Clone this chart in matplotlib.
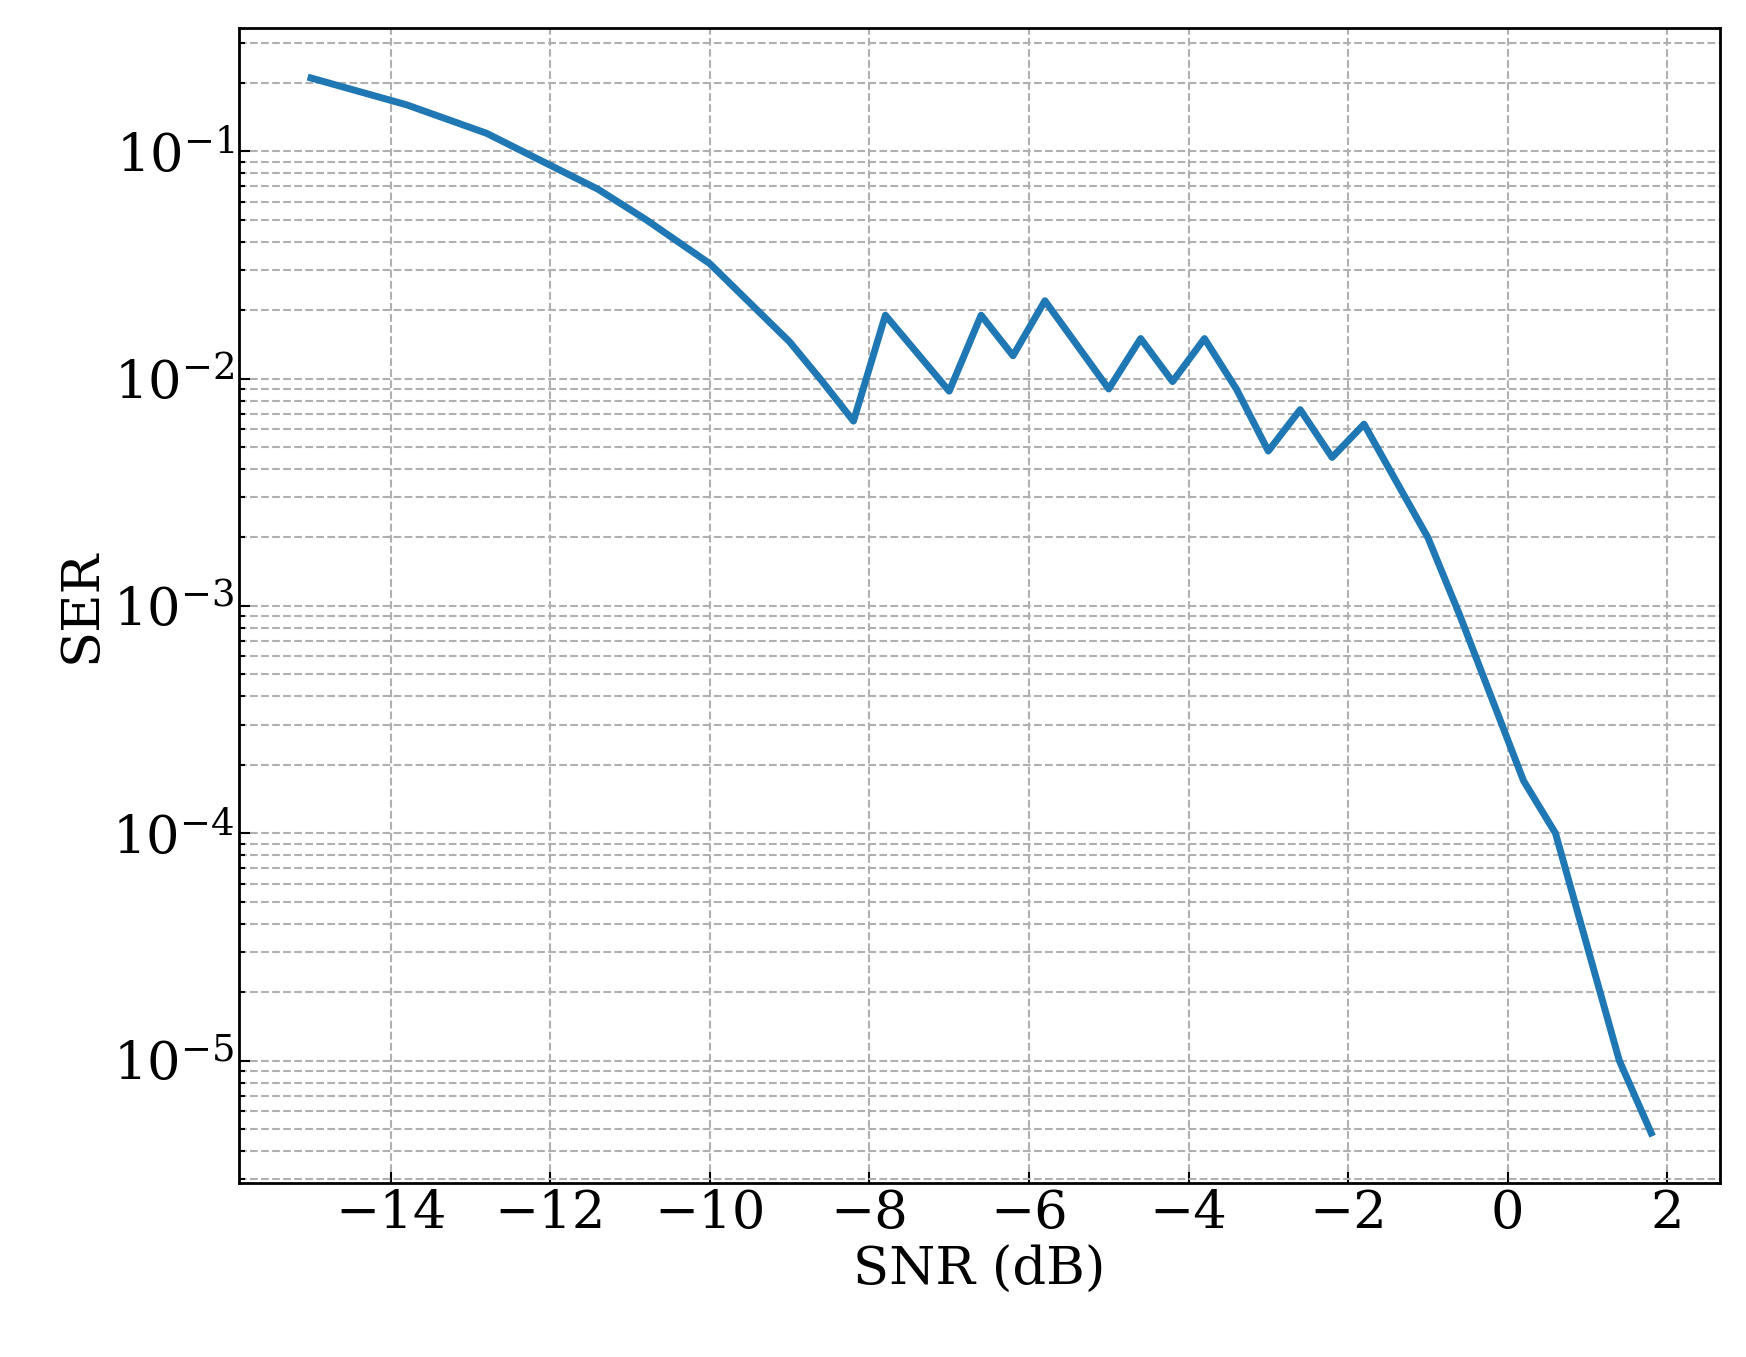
import matplotlib
matplotlib.use("Agg")
import matplotlib.pyplot as plt

snr = [-15, -13.8, -12.8, -11.4, -10.8, -10, -9, -8.6, -8.2, -7.8, -7, -6.6, -6.2, -5.8,
       -5, -4.6, -4.2, -3.8, -3.4, -3, -2.6, -2.2, -1.8, -1, -0.6, 0.2, 0.6, 1.4, 1.8]
ser = [0.21, 0.16, 0.12, 0.068, 0.05, 0.032, 0.0145, 0.0098, 0.0065, 0.019, 0.0088, 0.019,
       0.0126, 0.022, 0.009, 0.015, 0.0097, 0.015, 0.009, 0.0048, 0.0073, 0.0045, 0.0063,
       0.002, 0.00091, 0.00017, 0.0001, 1e-5, 4.8e-6]

plt.rcParams['font.family'] = ['DejaVu Serif']
plt.rcParams['mathtext.fontset'] = 'dejavuserif'
fig = plt.figure(figsize=(17.46, 13.57), dpi=100)
ax = fig.add_axes([0.137, 0.128, 0.848, 0.851])
ax.semilogy(snr, ser, color='#1f77b4', lw=5)
ax.set_xlim(-15.9, 2.66)
ax.set_ylim(10**-5.54, 10**-0.46)
ax.set_xticks([-14, -12, -10, -8, -6, -4, -2, 0, 2])
ax.grid(True, which='both', ls='--', color='#b0b0b0', lw=1.5)
ax.tick_params(which='both', direction='in', labelsize=38, width=1.5)
ax.tick_params(which='major', length=8)
ax.tick_params(which='minor', length=4)
for s in ax.spines.values():
    s.set_linewidth(2)
ax.set_xlabel('SNR (dB)', fontsize=38)
ax.set_ylabel('SER', fontsize=38)
fig.savefig('out.png', dpi=100)
